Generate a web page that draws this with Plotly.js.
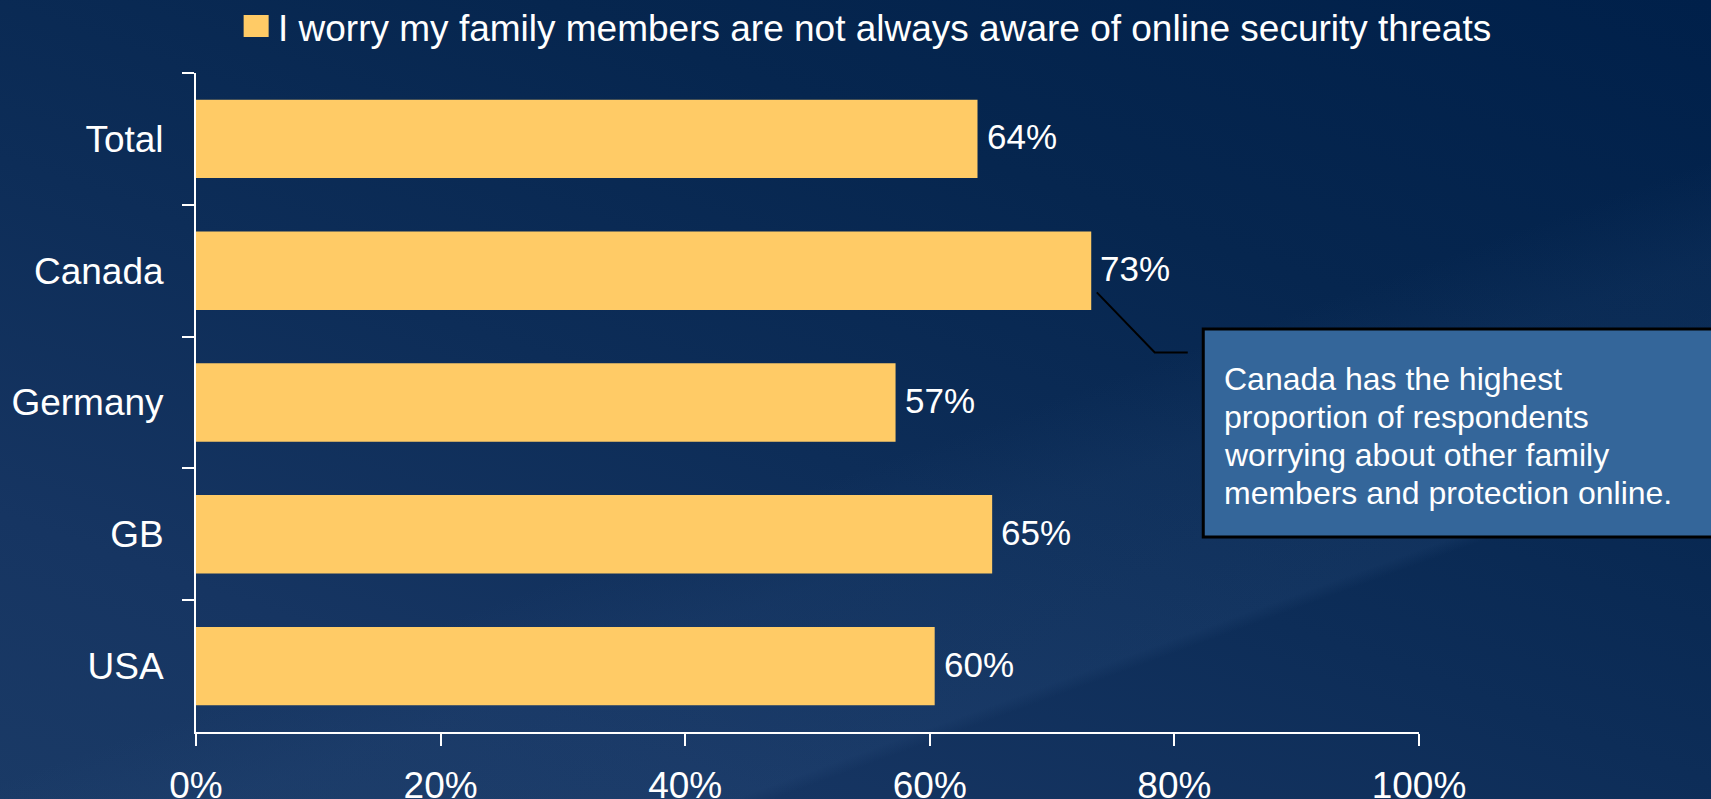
<!DOCTYPE html>
<html>
<head>
<meta charset="utf-8">
<script src="https://cdn.plot.ly/plotly-3.0.1.min.js"></script>
<style>
  html, body { margin: 0; padding: 0; width: 1711px; height: 799px; overflow: hidden; }
  body {
    background:
      linear-gradient(160deg, rgba(255,255,255,0) 0%, rgba(255,255,255,0) 55%, rgba(60,100,150,0.10) 62%, rgba(60,100,150,0.14) 75%, rgba(255,255,255,0) 76%),
      linear-gradient(200deg, #00204a 0%, #06264f 30%, #0d2d58 55%, #163562 80%, #1a3a66 100%);
  }
  #chart { width: 1711px; height: 799px; }
</style>
</head>
<body>
<div id="chart"></div>
<script>
// ---- data ----
const categories = ['Total', 'Canada', 'Germany', 'GB', 'USA'];
const values = [63.9, 73.2, 57.2, 65.1, 60.4];
const seriesName = 'I worry my family members are not always aware of online security threats';
const xTickValues = [0, 20, 40, 60, 80, 100];
const xTickLabels = ['0%', '20%', '40%', '60%', '80%', '100%'];
const calloutLines = [
  'Canada has the highest',
  'proportion of respondents',
  'worrying about other family',
  'members and protection online.'
];

// ---- layout helpers (pixel -> paper) ----
const W = 1711, H = 799;
const M = { l: 196.4, r: 1711 - 1418.6, t: 73, b: 799 - 732 };
const PW = W - M.l - M.r, PH = H - M.t - M.b;
const px = x => (x - M.l) / PW;
const py = y => (H - M.b - y) / PH;

const FONT = 'Arial, "Liberation Sans", sans-serif';
const barColor = '#FFCB66';

const trace = {
  type: 'bar',
  orientation: 'h',
  x: values,
  y: categories,
  name: seriesName,
  marker: { color: barColor, line: { width: 0 } },
  hoverinfo: 'skip',
  cliponaxis: false
};

const valueLabels = categories.map((c, i) => ({
  x: values[i], y: c, xref: 'x', yref: 'y',
  text: Math.round(values[i]) + '%',
  showarrow: false, xanchor: 'left', yanchor: 'middle', xshift: 7, yshift: 2,
  font: { family: FONT, size: 35, color: '#ffffff' }
}));

const calloutAnns = calloutLines.map((t, i) => ({
  xref: 'paper', yref: 'paper', x: px(1222), y: py(378.5 + 38 * i),
  text: t, showarrow: false, xanchor: 'left', yanchor: 'middle', align: 'left',
  font: { family: FONT, size: 32, color: '#ffffff' }
}));

const layout = {
  width: W, height: H,
  margin: M,
  paper_bgcolor: 'rgba(0,0,0,0)',
  plot_bgcolor: 'rgba(0,0,0,0)',
  showlegend: false,
  bargap: 0.405,
  font: { family: FONT, color: '#ffffff', size: 37 },
  xaxis: {
    range: [0, 100],
    tickvals: xTickValues,
    ticktext: xTickLabels,
    ticks: 'outside', ticklen: 12, tickwidth: 2, tickcolor: '#ffffff',
    showline: true, linecolor: '#ffffff', linewidth: 2,
    showgrid: false, zeroline: false,
    tickfont: { family: FONT, size: 37, color: '#ffffff' },
    ticklabelstandoff: 8,
    fixedrange: true
  },
  yaxis: {
    type: 'category',
    autorange: 'reversed',
    tickson: 'boundaries',
    ticks: 'outside', ticklen: 12, tickwidth: 2, tickcolor: '#ffffff',
    showline: true, linecolor: '#ffffff', linewidth: 2,
    showgrid: false, zeroline: false,
    tickfont: { family: FONT, size: 37, color: '#ffffff' },
    ticklabelstandoff: 23,
    fixedrange: true
  },
  shapes: [
    // legend swatch
    { type: 'rect', xref: 'paper', yref: 'paper',
      x0: px(244), x1: px(269), y0: py(37), y1: py(15),
      fillcolor: barColor, line: { width: 0 } },
    // callout box
    { type: 'rect', xref: 'paper', yref: 'paper',
      x0: px(1203), x1: px(1725), y0: py(537), y1: py(329),
      fillcolor: '#34669A', line: { color: '#000000', width: 3 } },
    // leader line
    { type: 'path', xref: 'paper', yref: 'paper',
      path: 'M ' + px(1096.6) + ' ' + py(292.4) + ' L ' + px(1154.5) + ' ' + py(352.5) + ' L ' + px(1187.5) + ' ' + py(352.5),
      line: { color: '#000000', width: 2 } }
  ],
  annotations: [
    { xref: 'paper', yref: 'paper', x: px(276), y: py(28),
      text: seriesName, showarrow: false, xanchor: 'left', yanchor: 'middle',
      font: { family: FONT, size: 37, color: '#ffffff' } }
  ].concat(calloutAnns).concat(valueLabels)
};

Plotly.newPlot('chart', [trace], layout, { displayModeBar: false, staticPlot: true });
</script>
</body>
</html>
